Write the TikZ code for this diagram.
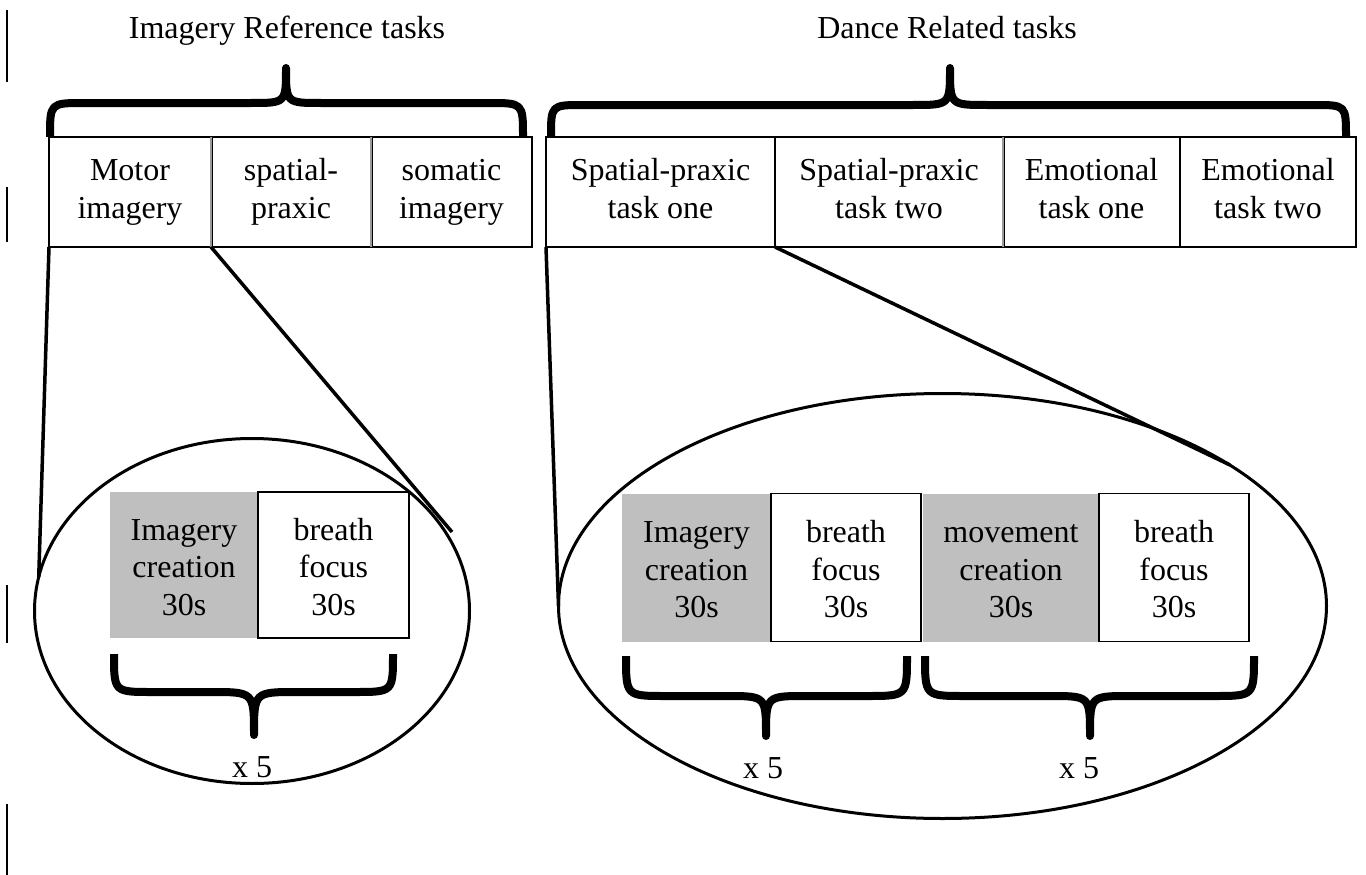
\documentclass[tikz,border=0pt]{standalone}
\usepackage{fontspec}
\setmainfont{Liberation Serif}
\usetikzlibrary{shapes.geometric,calc}
\newcommand{\lt}{\vphantom{Ibgy}}
% #1 x-left, #2 x-right, #3 x-tip, #4 y-end, #5 y-bar, #6 y-tip
\newcommand{\hbrace}[6]{%
  \draw[bracestyle]
    (#1,#4) .. controls (#1,#5) and (#1,#5) .. ({#1+abs(#4-#5)},#5)
    -- ({#3-abs(#5-#6)},#5)
    .. controls (#3,#5) and (#3,#5) .. (#3,#6)
    .. controls (#3,#5) and (#3,#5) .. ({#3+abs(#5-#6)},#5)
    -- ({#2-abs(#4-#5)},#5)
    .. controls (#2,#5) and (#2,#5) .. (#2,#4);
}
\begin{document}
\begin{tikzpicture}[x=1pt,y=-1pt,
  every node/.style={inner sep=0pt, outer sep=0pt},
  txt/.style={font=\fontsize{32}{37.5}\selectfont, align=center},
  topbox/.style={draw, line width=1.6pt, minimum height=110pt, txt},
  graybox/.style={fill=black!25, minimum height=#1},
  graybox/.default=146pt,
  whitebox/.style={draw, line width=1.6pt, minimum height=#1},
  whitebox/.default=146pt,
  bigell/.style={ellipse, draw, line width=3pt},
  conn/.style={line width=3.5pt},
  bracestyle/.style={line width=8pt, line cap=butt, line join=round},
  divider/.style={line width=0.9pt, double=black!40, double distance=1.2pt},
  marg/.style={line width=2pt}]
\useasboundingbox (0,0) rectangle (1366,875);

% margin bars
\draw[marg] (6.5,10) -- (6.5,82);
\draw[marg] (6.5,187) -- (6.5,242);
\draw[marg] (6.5,585) -- (6.5,643);
\draw[marg] (6.5,804) -- (6.5,875);

% titles
\node[txt, anchor=base] (title1) at (287,39) {Imagery Reference tasks};
\node[txt, anchor=base] (title2) at (947,39) {Dance Related tasks};

% top braces
\hbrace{50}{523}{286}{137}{103}{68}
\hbrace{551}{1346}{950}{137}{105}{68}

% ellipses
\node[bigell, minimum width=435pt, minimum height=345pt] (ell1) at (252,611) {};
\node[bigell, minimum width=768pt, minimum height=425pt] (ell2) at (942.5,606) {};

% top boxes
\node[topbox, minimum width=162pt] (motor) at (130,192) {\lt Motor\\\lt imagery};
\node[topbox, minimum width=160pt] (spatial) at (291,192) {\lt spatial-\\\lt praxic};
\node[topbox, minimum width=161pt] (somatic) at (451.5,192) {\lt somatic\\\lt imagery};
\node[topbox, minimum width=229pt] (sp1) at (660.5,192) {\lt Spatial-praxic\\\lt task one};
\node[topbox, minimum width=228pt] (sp2) at (889,192) {\lt Spatial-praxic\\\lt task two};
\node[topbox, minimum width=177pt] (em1) at (1091.5,192) {\lt Emotional\\\lt task one};
\node[topbox, minimum width=176pt] (em2) at (1268,192) {\lt Emotional\\\lt task two};
\draw[divider] (motor.north east) -- (motor.south east);
\draw[divider] (spatial.north east) -- (spatial.south east);
\draw[divider] (sp2.north east) -- (sp2.south east);

% bottom left boxes
\node[graybox, minimum width=148pt] (g1) at (184,565) {};
\node[whitebox, minimum width=151pt] (w1) at (333.5,565) {};
\node[txt] (g1t) at (184,570) {\lt Imagery\\\lt creation\\\lt 30s};
\node[txt] (w1t) at (333.5,570) {\lt breath\\\lt focus\\\lt 30s};

% bottom right boxes
\node[graybox=148pt, minimum width=149pt] (g2) at (696.5,567.5) {};
\node[whitebox=148pt, minimum width=150pt] (w2) at (846,567.5) {};
\node[graybox=148pt, minimum width=176pt] (g3) at (1011,567.5) {};
\node[whitebox=148pt, minimum width=150pt] (w3) at (1174,567.5) {};
\node[txt] (g2t) at (696.5,572.5) {\lt Imagery\\\lt creation\\\lt 30s};
\node[txt] (w2t) at (846,572.5) {\lt breath\\\lt focus\\\lt 30s};
\node[txt] (g3t) at (1011,572.5) {\lt movement\\\lt creation\\\lt 30s};
\node[txt] (w3t) at (1174,572.5) {\lt breath\\\lt focus\\\lt 30s};

% bottom braces
\hbrace{114}{393}{254}{654}{692}{735}
\hbrace{626}{907}{766}{656}{696}{736}
\hbrace{925}{1254}{1090}{656}{696}{736}

% repetition labels
\node[txt, anchor=base] (rep1) at (252,777) {x 5};
\node[txt, anchor=base] (rep2) at (763,778) {x 5};
\node[txt, anchor=base] (rep3) at (1079,778) {x 5};

% connectors
\coordinate (e1r) at (452,532);
\coordinate (e2r) at (1230,465);
\draw[conn] (motor.south west) -- (ell1.171);
\draw[conn] (spatial.south west) -- (e1r);
\draw[conn] (sp1.south west) -- (ell2.180);
\draw[conn] (sp2.south west) -- (e2r);
\end{tikzpicture}
\end{document}
